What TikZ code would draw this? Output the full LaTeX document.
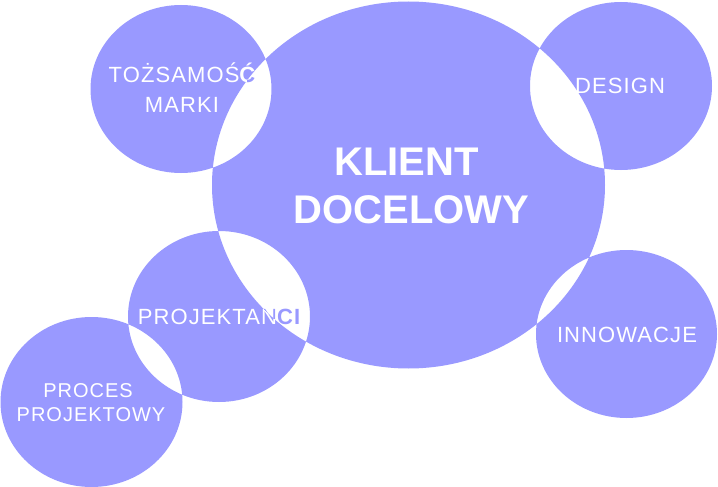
\documentclass[tikz,border=0pt]{standalone}
\usepackage{fontspec}
\setmainfont{Liberation Sans}
\newfontfamily\lblfont{Liberation Sans}[LetterSpace=5]
\newfontfamily\ttlfont{Liberation Sans}
\definecolor{lav}{RGB}{153,153,255}
\begin{document}
\begin{tikzpicture}[x=1pt,y=-1pt,
  lbl/.style={text=white,font=\lblfont\fontsize{22}{26}\selectfont,anchor=base,inner sep=0pt},
  lblsm/.style={lbl,font=\lblfont\fontsize{20}{24}\selectfont},
  ttl/.style={text=white,font=\ttlfont\bfseries\fontsize{40}{48}\selectfont,anchor=base,inner sep=0pt},
  inv/.style={text=lav}]
\useasboundingbox (0,0) rectangle (718,487);
\def\bigE{(408.5,185) ellipse [x radius=196.5pt, y radius=183.5pt]}
\def\tlE{(181,89) ellipse [x radius=90.5pt, y radius=84pt]}
\def\trE{(621,86) ellipse [x radius=91pt, y radius=84pt]}
\def\inE{(626.5,334) ellipse [x radius=90.5pt, y radius=84pt]}
\def\prE{(219,316.5) ellipse [x radius=91pt, y radius=85.5pt]}
\def\pcE{(91.5,402) ellipse [x radius=91pt, y radius=85pt]}
\fill[lav,even odd rule] \bigE \tlE \trE \inE \prE \pcE;
% labels
\node[ttl] (k1) at (406.5,175) {KLIENT};
\node[ttl] (k2) at (411.5,223) {DOCELOWY};
\node[lbl] (t1) at (182,83) {TOŻSAMOŚ{\bfseries Ć}};
\node[lbl] (t2) at (182,112) {MARKI};
\node[lbl] (d1) at (620,93) {DESIGN};
\node[lbl] (i1) at (627,342) {INNOWACJE};
\node[lbl] (p1) at (219,324) {PROJEKTAN{\bfseries CI}};
\node[lblsm] (c1) at (88,397) {PROCES};
\node[lblsm] (c2) at (91,421) {PROJEKTOWY};
% inverted text in the lens regions
\begin{scope}
  \clip \bigE; \clip \tlE;
  \node[lbl,inv] (t1b) at (182,83) {TOŻSAMOŚ{\bfseries Ć}};
\end{scope}
\begin{scope}
  \clip \bigE; \clip \prE;
  \node[lbl,inv] (p1b) at (219,324) {PROJEKTAN{\bfseries CI}};
\end{scope}
\end{tikzpicture}
\end{document}
